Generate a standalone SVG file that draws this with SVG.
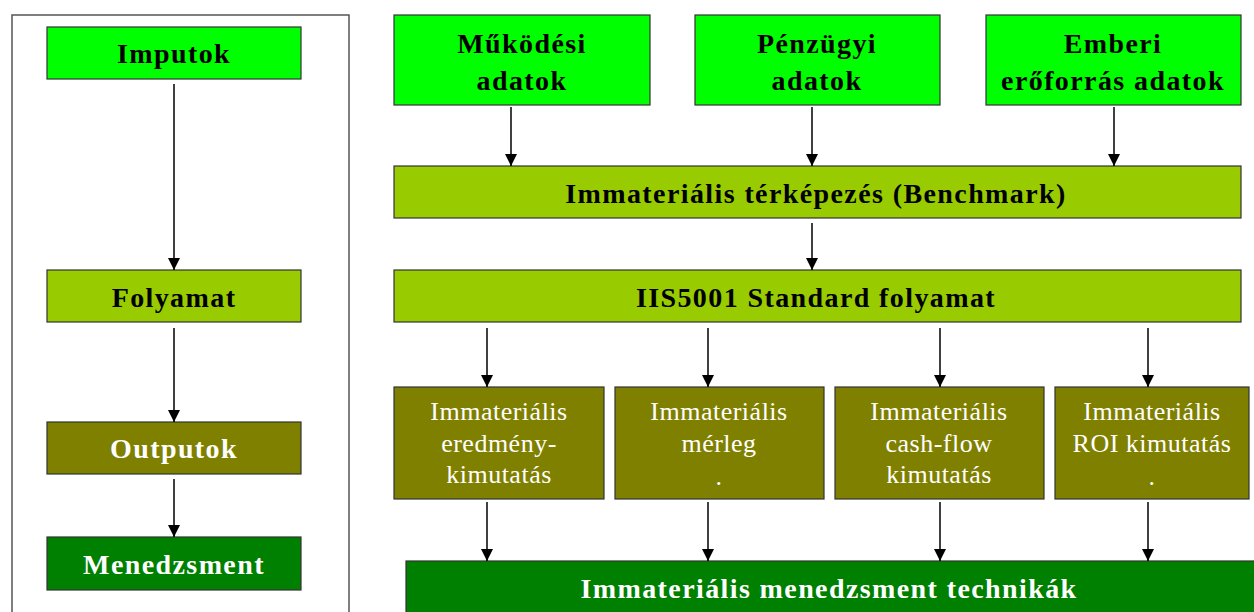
<svg xmlns="http://www.w3.org/2000/svg" width="1254" height="612" viewBox="0 0 1254 612">
  <defs>
    <marker id="arrow" markerWidth="12" markerHeight="12" refX="12" refY="6" orient="auto" markerUnits="userSpaceOnUse">
      <path d="M0,0 L12,6 L0,12 Z" fill="#000"/>
    </marker>
    <style>
      .box { stroke: #333; stroke-width: 1.2; }
      .g1 { fill: #00ff00; }
      .g2 { fill: #99cc00; }
      .ol { fill: #808000; }
      .dg { fill: #008000; }
      .tb { font-family: "Liberation Serif", "Times New Roman", serif; font-weight: bold; font-size: 28px; letter-spacing: 1.4px; text-anchor: middle; fill: #000; }
      .tw { font-family: "Liberation Serif", "Times New Roman", serif; font-size: 26px; letter-spacing: 0.5px; text-anchor: middle; fill: #fff; }
      .wb { fill: #fff; }
      .conn line { stroke: #000; stroke-width: 1.5; marker-end: url(#arrow); }
    </style>
  </defs>
  <rect width="1254" height="612" fill="#fff"/>

  <!-- left panel frame -->
  <rect x="12" y="15" width="337" height="610" fill="none" stroke="#555" stroke-width="1.5"/>

  <!-- left column -->
  <g id="imputok">
    <rect class="box g1" x="47" y="27" width="254" height="52"/>
    <text class="tb" x="174" y="63">Imputok</text>
  </g>
  <g id="folyamat">
    <rect class="box g2" x="47" y="270" width="254" height="52"/>
    <text class="tb" x="174" y="307">Folyamat</text>
  </g>
  <g id="outputok">
    <rect class="box ol" x="47" y="422" width="254" height="52"/>
    <text class="tb wb" x="174" y="458">Outputok</text>
  </g>
  <g id="menedzsment">
    <rect class="box dg" x="47" y="537" width="254" height="53"/>
    <text class="tb wb" x="174" y="574">Menedzsment</text>
  </g>

  <!-- data sources -->
  <g id="mukodesi">
    <rect class="box g1" x="394" y="15" width="256" height="90"/>
    <text class="tb" x="522" y="53">Működési</text>
    <text class="tb" x="522" y="90">adatok</text>
  </g>
  <g id="penzugyi">
    <rect class="box g1" x="695" y="15" width="245" height="90"/>
    <text class="tb" x="817" y="53">Pénzügyi</text>
    <text class="tb" x="817" y="90">adatok</text>
  </g>
  <g id="emberi">
    <rect class="box g1" x="986" y="15" width="255" height="90"/>
    <text class="tb" x="1113" y="53">Emberi</text>
    <text class="tb" x="1113" y="90">erőforrás adatok</text>
  </g>

  <!-- process bars -->
  <g id="benchmark">
    <rect class="box g2" x="394" y="166" width="847" height="52"/>
    <text class="tb" x="816" y="203">Immateriális térképezés (Benchmark)</text>
  </g>
  <g id="iis5001">
    <rect class="box g2" x="394" y="270" width="847" height="52"/>
    <text class="tb" x="816" y="307">IIS5001 Standard folyamat</text>
  </g>

  <!-- statements -->
  <g id="eredmeny">
    <rect class="box ol" x="394" y="387" width="210" height="112"/>
    <text class="tw" x="499" y="420">Immateriális</text>
    <text class="tw" x="499" y="452">eredmény-</text>
    <text class="tw" x="499" y="483">kimutatás</text>
  </g>
  <g id="merleg">
    <rect class="box ol" x="615" y="387" width="209" height="112"/>
    <text class="tw" x="719" y="420">Immateriális</text>
    <text class="tw" x="719" y="452">mérleg</text>
    <text class="tw" x="719" y="485">.</text>
  </g>
  <g id="cashflow">
    <rect class="box ol" x="835" y="387" width="209" height="112"/>
    <text class="tw" x="939" y="420">Immateriális</text>
    <text class="tw" x="939" y="452">cash-flow</text>
    <text class="tw" x="939" y="483">kimutatás</text>
  </g>
  <g id="roi">
    <rect class="box ol" x="1055" y="387" width="194" height="112"/>
    <text class="tw" x="1152" y="420">Immateriális</text>
    <text class="tw" x="1152" y="452">ROI kimutatás</text>
    <text class="tw" x="1152" y="485">.</text>
  </g>

  <!-- management techniques -->
  <g id="technikak">
    <rect class="box dg" x="406" y="561" width="850" height="60"/>
    <text class="tb wb" x="829" y="598">Immateriális menedzsment technikák</text>
  </g>

  <!-- connectors -->
  <g class="conn">
    <line x1="174" y1="84" x2="174" y2="270"/>
    <line x1="174" y1="328" x2="174" y2="422"/>
    <line x1="174" y1="479" x2="174" y2="537"/>

    <line x1="511" y1="107" x2="511" y2="166"/>
    <line x1="812" y1="107" x2="812" y2="166"/>
    <line x1="1114" y1="107" x2="1114" y2="166"/>

    <line x1="812" y1="223" x2="812" y2="270"/>

    <line x1="487" y1="328" x2="487" y2="387"/>
    <line x1="708" y1="328" x2="708" y2="387"/>
    <line x1="940" y1="328" x2="940" y2="387"/>
    <line x1="1148" y1="328" x2="1148" y2="387"/>

    <line x1="487" y1="502" x2="487" y2="561"/>
    <line x1="708" y1="502" x2="708" y2="561"/>
    <line x1="940" y1="502" x2="940" y2="561"/>
    <line x1="1148" y1="502" x2="1148" y2="561"/>
  </g>
</svg>
